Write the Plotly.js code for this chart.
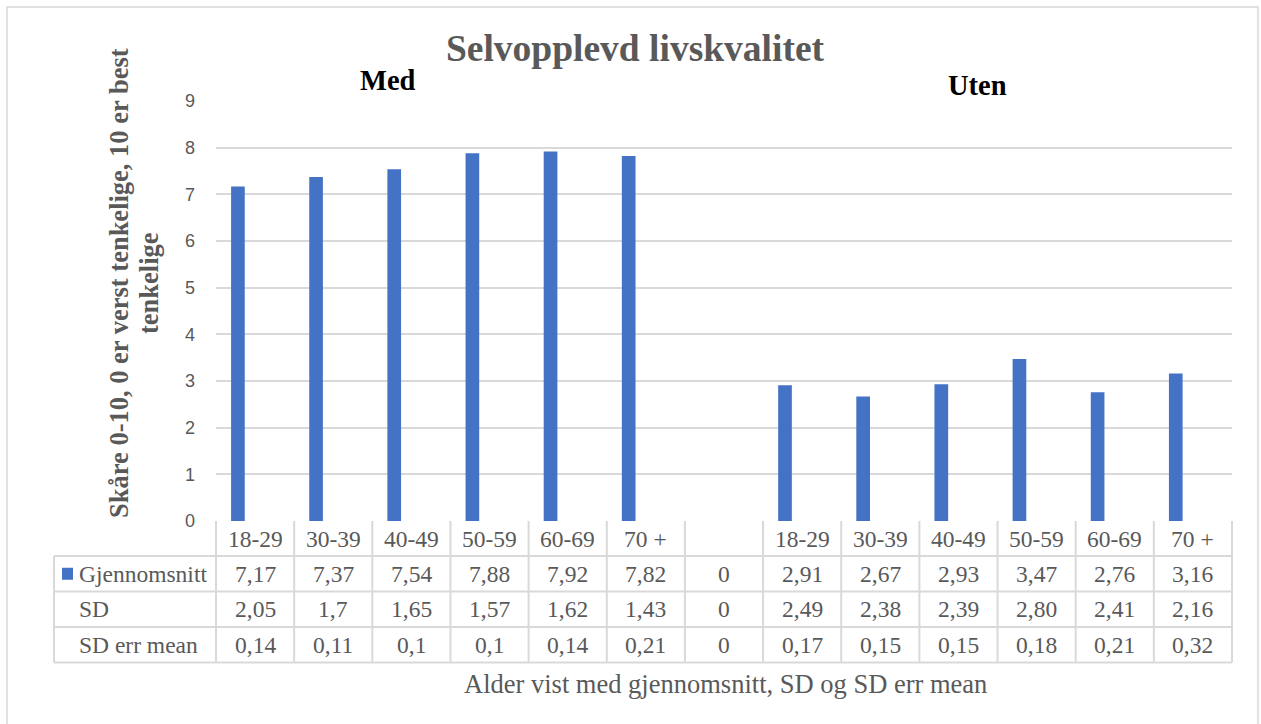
<!DOCTYPE html>
<html>
<head>
<meta charset="utf-8">
<script src="https://cdn.plot.ly/plotly-3.0.1.min.js"></script>
<style>
  html, body { margin: 0; padding: 0; background: #ffffff; }
  #chart { width: 1261px; height: 724px; }
</style>
</head>
<body>
<div id="chart"></div>
<script>
// ---- data ----
const categories = ['18-29', '30-39', '40-49', '50-59', '60-69', '70 +', '', '18-29', '30-39', '40-49', '50-59', '60-69', '70 +'];
const gjennomsnitt = [7.17, 7.37, 7.54, 7.88, 7.92, 7.82, 0, 2.91, 2.67, 2.93, 3.47, 2.76, 3.16];
const sd = [2.05, 1.7, 1.65, 1.57, 1.62, 1.43, 0, 2.49, 2.38, 2.39, 2.80, 2.41, 2.16];
const sdErrMean = [0.14, 0.11, 0.1, 0.1, 0.14, 0.21, 0, 0.17, 0.15, 0.15, 0.18, 0.21, 0.32];
const sdLabels = ['2,05', '1,7', '1,65', '1,57', '1,62', '1,43', '0', '2,49', '2,38', '2,39', '2,80', '2,41', '2,16'];
const sdErrLabels = ['0,14', '0,11', '0,1', '0,1', '0,14', '0,21', '0', '0,17', '0,15', '0,15', '0,18', '0,21', '0,32'];
const seriesNames = ['Gjennomsnitt', 'SD', 'SD err mean'];
const groupLabels = ['Med', 'Uten'];
const titleText = 'Selvopplevd livskvalitet';
const yTitleLines = ['Skåre 0-10, 0 er verst tenkelige, 10 er best', 'tenkelige'];
const xTitle = 'Alder vist med gjennomsnitt, SD og SD err mean';
const yTicks = [0, 1, 2, 3, 4, 5, 6, 7, 8, 9];

// ---- layout geometry ----
const W = 1261, H = 724;
const M = { l: 216, r: 29, t: 101, b: 203 };
const PW = W - M.l - M.r, PH = H - M.t - M.b;
const px = v => (v - M.l) / PW;        // pixel x -> paper
const py = v => (H - M.b - v) / PH;    // pixel y -> paper

const SERIF = 'Liberation Serif, Times New Roman, serif';
const GRID = '#d9d9d9';
const TXT = '#595959';
const BLUE = '#4472C4';
const idx = categories.map((_, i) => i);
const n = categories.length;

const gjLabels = gjennomsnitt.map(v => String(v).replace('.', ','));

const rowTop = [521, 556, 591.5, 627, 662.5]; // pixel rows of the data table
const rowCenters = rowTop.slice(0, 4).map((v, i) => (v + rowTop[i + 1]) / 2);

const shapes = [];
const annotations = [];

// outer chart border
shapes.push({ type: 'rect', xref: 'paper', yref: 'paper', x0: px(7), x1: px(1258), y0: py(730), y1: py(7),
  line: { color: GRID, width: 1.5 }, layer: 'below' });

// table horizontal lines
for (let r = 1; r < rowTop.length; r++) {
  shapes.push({ type: 'line', xref: 'paper', yref: 'paper', x0: px(54), x1: 1, y0: py(rowTop[r]), y1: py(rowTop[r]),
    line: { color: GRID, width: 2 } });
}
// table vertical lines
for (let k = 0; k <= n; k++) {
  shapes.push({ type: 'line', xref: 'paper', yref: 'paper', x0: k / n, x1: k / n, y0: py(rowTop[0]), y1: py(rowTop[4]),
    line: { color: GRID, width: 2 } });
}
shapes.push({ type: 'line', xref: 'paper', yref: 'paper', x0: px(54), x1: px(54), y0: py(rowTop[1]), y1: py(rowTop[4]),
  line: { color: GRID, width: 2 } });
// legend key for Gjennomsnitt
shapes.push({ type: 'rect', xref: 'paper', yref: 'paper', x0: px(62), x1: px(73), y0: py(rowCenters[1] + 6), y1: py(rowCenters[1] - 6),
  fillcolor: BLUE, line: { width: 0 } });

const tableFont = { family: SERIF, size: 23.5, color: TXT };
const rows = [categories, gjLabels, sdLabels, sdErrLabels];
rows.forEach((vals, r) => {
  vals.forEach((t, i) => {
    if (t === '') return;
    annotations.push({ xref: 'x', yref: 'paper', x: i, y: py(rowCenters[r]), text: t, showarrow: false,
      xanchor: 'center', yanchor: 'middle', font: tableFont });
  });
});
seriesNames.forEach((s, r) => {
  annotations.push({ xref: 'paper', yref: 'paper', x: px(77), y: py(rowCenters[r + 1]), text: s, showarrow: false,
    xanchor: 'left', yanchor: 'middle', font: tableFont });
});

// group labels
annotations.push({ xref: 'paper', yref: 'paper', x: px(388), y: py(81), text: '<b>' + groupLabels[0] + '</b>', showarrow: false,
  xanchor: 'center', yanchor: 'middle', font: { family: SERIF, size: 28.5, color: '#000000' } });
annotations.push({ xref: 'paper', yref: 'paper', x: px(977), y: py(86), text: '<b>' + groupLabels[1] + '</b>', showarrow: false,
  xanchor: 'center', yanchor: 'middle', font: { family: SERIF, size: 28.5, color: '#000000' } });

// axis titles (two rotated lines)
[119, 149].forEach((xp, k) => {
  annotations.push({ xref: 'paper', yref: 'paper', x: px(xp), y: py(283), text: '<b>' + yTitleLines[k] + '</b>', showarrow: false,
    textangle: -90, xanchor: 'center', yanchor: 'middle', font: { family: SERIF, size: 26.5, color: TXT } });
});
annotations.push({ xref: 'paper', yref: 'paper', x: px(725), y: py(684), text: xTitle, showarrow: false,
  xanchor: 'center', yanchor: 'middle', font: { family: SERIF, size: 26.5, color: TXT } });

const traces = [{
  type: 'bar',
  name: seriesNames[0],
  x: idx,
  y: gjennomsnitt,
  width: 0.175,
  offset: -0.307,
  marker: { color: BLUE, line: { width: 0 } },
  hoverinfo: 'y'
}];

const layout = {
  width: W, height: H,
  margin: M,
  paper_bgcolor: '#ffffff',
  plot_bgcolor: '#ffffff',
  showlegend: false,
  title: { text: '<b>' + titleText + '</b>', xref: 'container', yref: 'container', x: 635 / W, y: 1 - 48 / H,
    xanchor: 'center', yanchor: 'middle', font: { family: SERIF, size: 37.5, color: TXT } },
  xaxis: { range: [-0.5, n - 0.5], showgrid: false, zeroline: false, showline: false, showticklabels: false, ticks: '', fixedrange: true },
  yaxis: { range: [0, 9], tickvals: yTicks, showgrid: true, gridcolor: GRID, gridwidth: 2, zeroline: false, showline: false,
    ticks: '', ticklabelstandoff: 20, tickfont: { family: 'Liberation Sans, Arial, sans-serif', size: 18, color: TXT }, fixedrange: true },
  shapes: shapes,
  annotations: annotations
};

Plotly.newPlot('chart', traces, layout, { displayModeBar: false, staticPlot: true });
</script>
</body>
</html>
